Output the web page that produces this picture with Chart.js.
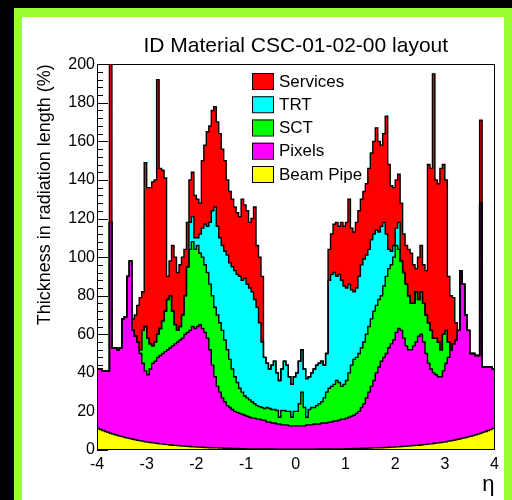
<!DOCTYPE html>
<html>
<head>
<meta charset="utf-8">
<script src="https://cdn.jsdelivr.net/npm/chart.js@4.4.1/dist/chart.umd.min.js"></script>
<style>
  html, body { margin: 0; padding: 0; background: #000; }
  #frame { position: absolute; left: 14px; top: 8px; width: 498px; height: 492px; background: #99ff33; }
  #pad { position: absolute; left: 22px; top: 17px; width: 482px; height: 483px; background: #fff; }
  canvas { display: block; }
</style>
</head>
<body>
<div id="frame"></div>
<div id="pad"><canvas id="myChart" width="482" height="483"></canvas></div>
<script>
// eta bins: 160 bins of 0.05 from -4 to 4
var etaMin = -4;
var binWidth = 0.05;
var xTicks = [-4, -3, -2, -1, 0, 1, 2, 3, 4];

// cumulative (stacked) thickness in % X0, upper edge of each layer
var beamPipe = [
  11.2,10.6,10.1,9.6,9.2,8.7,8.3,7.9,7.5,7.1,
  6.8,6.5,6.2,5.9,5.6,5.3,5.0,4.8,4.6,4.3,
  4.1,3.9,3.7,3.6,3.4,3.2,3.1,2.9,2.8,2.6,
  2.5,2.4,2.3,2.2,2.1,2.0,1.9,1.8,1.7,1.6,
  1.5,1.5,1.4,1.3,1.3,1.2,1.2,1.1,1.1,1.0,
  1.0,0.9,0.9,0.9,0.8,0.8,0.8,0.7,0.7,0.7,
  0.6,0.6,0.6,0.6,0.6,0.5,0.5,0.5,0.5,0.5,
  0.5,0.5,0.4,0.4,0.4,0.4,0.4,0.4,0.4,0.4,
  0.4,0.4,0.4,0.4,0.4,0.4,0.4,0.4,0.5,0.5,
  0.5,0.5,0.5,0.5,0.5,0.6,0.6,0.6,0.6,0.6,
  0.7,0.7,0.7,0.8,0.8,0.8,0.9,0.9,0.9,1.0,
  1.0,1.1,1.1,1.2,1.2,1.3,1.3,1.4,1.5,1.5,
  1.6,1.7,1.8,1.9,2.0,2.1,2.2,2.3,2.4,2.5,
  2.6,2.8,2.9,3.1,3.2,3.4,3.6,3.7,3.9,4.1,
  4.3,4.6,4.8,5.0,5.3,5.6,5.9,6.2,6.5,6.8,
  7.1,7.5,7.9,8.3,8.7,9.2,9.6,10.1,10.6,11.2
];
var pixels = [
  42,42,41,41,41,118,53,53,52,53,
  68,69,90,98,62,59,56,50,45,41,
  39,42,45,46,48,49,50,51,52,53,
  54,55,56,57,58,60,61,62,64,63,
  64,65,63,61,58,52,44,38,33,30,
  27,25,23,22,21,20,19.5,19,18.5,18,
  17.5,17,16.5,16.5,16,16,15.5,15.5,14.5,14.5,
  14,14,13.5,13.5,13,13,13,12.5,12.5,12.5,
  12.5,12.5,12.5,12.5,13,13,13,13.5,13.5,13.5,
  14,14,14,14.5,14.5,15,15,15.5,16,16,
  16.5,17,17.5,18,19,20,22,24,27,30,
  33,36,40,43,46,48,50,53,55,57,
  61,63,62,58,54,52,52,54,56,59,
  60,56,50,45,42,40,39,38,38,41,
  45,48,52,55,57,62,93,86,70,62,
  50,50,49,49,128,43,43,43,43,42
];
var sct = [
  42,42,41,41,41,118,53,53,52,53,
  68,69,90,98,62,59,56,52,62,64,
  58,55,54,56,60,63,67,72,78,80,
  72,65,62,64,70,80,95,104,108,104,
  106,102,100,96,92,86,80,74,70,66,
  62,57,52,47,42,38,35,32,30,28,
  27,26,25,24,23,22.5,22,21.5,22,21.5,
  21,21,20.5,17,20.5,20.5,20,20,17,20,
  20,24,30,22,17,21,22,22,23,24,
  25,27,30,32,33,34,36,35,33,34,
  36,40,44,47,48,50,53,56,60,64,
  68,72,75,78,80,85,90,94,96,100,
  106,104,98,92,86,80,76,76,82,78,
  82,76,70,66,62,58,58,56,52,60,
  62,56,52,55,57,62,93,86,70,62,
  50,50,49,49,128,43,43,43,43,42
];
var trt = [
  42,42,41,41,41,118,53,53,52,53,
  68,69,90,98,62,59,56,52,62,64,
  58,55,54,56,60,63,67,72,78,80,
  72,65,62,64,70,80,95,118,121,110,
  110,112,115,117,116,118,124,126,116,110,
  106,103,101,97,95,93,91,90,88,89,
  86,84,82,78,74,66,56,48,45,42,
  44,46,40,36,42,46,44,38,34,38,
  40,46,52,42,37,38,40,42,44,45,
  46,44,50,88,91,92,90,91,88,85,
  84,86,83,82,84,90,96,99,101,104,
  109,112,114,113,116,118,112,104,103,106,
  115,118,98,92,86,80,76,76,82,78,
  82,76,70,66,62,58,58,56,52,60,
  62,56,52,55,57,62,93,86,70,62,
  50,50,49,49,128,43,43,43,43,42
];
var services = [
  42,42,41,41,41,205,53,53,52,53,
  68,69,90,98,68,70,75,79,82,149,
  136,136,139,140,192,146,145,141,90,98,
  106,100,92,96,100,104,118,140,144,132,
  130,128,150,158,165,168,176,178,170,164,
  156,150,140,134,130,126,123,121,130,127,
  124,118,120,126,106,100,90,48,45,42,
  44,46,40,36,42,46,44,38,34,38,
  40,46,52,42,37,38,40,42,44,45,
  46,44,50,104,112,117,118,116,118,116,
  118,130,115,113,118,124,130,134,138,146,
  154,160,167,160,158,164,173,148,137,136,
  140,143,128,112,106,104,102,96,94,100,
  106,96,93,148,146,195,140,138,146,148,
  140,90,80,79,66,62,93,86,70,62,
  50,50,49,49,171,43,43,43,43,42
];

var layerNames = ['Beam Pipe', 'Pixels', 'SCT', 'TRT', 'Services'];
var layerColors = ['#ffff00', '#ff00ff', '#00ff00', '#00ffff', '#ff0000'];

// histogram steps: value held from the low edge of each bin to the next edge
function steps(vals) {
  var pts = [];
  for (var i = 0; i < vals.length; i++) {
    pts.push({x: +(etaMin + i * binWidth).toFixed(2), y: vals[i]});
  }
  pts.push({x: +(etaMin + vals.length * binWidth).toFixed(2), y: vals[vals.length - 1]});
  return pts;
}

var layers = [beamPipe, pixels, sct, trt, services];
var datasets = [];
for (var k = 0; k < layers.length; k++) {
  datasets.push({
    label: layerNames[k],
    data: steps(layers[k]),
    stepped: 'before',
    fill: k === 0 ? 'origin' : '-1',
    backgroundColor: layerColors[k],
    borderColor: '#000',
    borderWidth: 1.4,
    pointRadius: 0
  });
}

var rootStyle = {
  id: 'rootStyle',
  beforeDraw: function(chart) {
    // y axis ticks pointing into the pad, under the filled areas
    var ctx = chart.ctx, a = chart.chartArea, ys = chart.scales.y;
    ctx.save();
    ctx.strokeStyle = '#000';
    ctx.lineWidth = 1;
    for (var v = 0; v <= 200; v += 4) {
      var py = Math.round(ys.getPixelForValue(v)) + 0.5;
      var len = (v % 20 === 0) ? 11 : 6;
      ctx.beginPath();
      ctx.moveTo(a.left, py);
      ctx.lineTo(a.left + len, py);
      ctx.stroke();
    }
    ctx.restore();
  },
  afterDatasetsDraw: function(chart) {
    var ctx = chart.ctx, a = chart.chartArea;
    ctx.save();
    ctx.strokeStyle = '#000';
    ctx.lineWidth = 1;
    ctx.strokeRect(Math.round(a.left) + 0.5, Math.round(a.top) + 0.5,
                   Math.round(a.right - a.left) - 1, Math.round(a.bottom - a.top) - 1);
    // legend, top entry = last dataset
    var ds = chart.data.datasets;
    ctx.font = '17px "Liberation Sans", Arial, sans-serif';
    ctx.textBaseline = 'middle';
    ctx.textAlign = 'left';
    for (var i = 0; i < ds.length; i++) {
      var d = ds[ds.length - 1 - i];
      var top = 56 + i * 23.25;
      ctx.fillStyle = d.backgroundColor;
      ctx.fillRect(230, top, 21, 16);
      ctx.strokeRect(230.5, top + 0.5, 21, 16);
      ctx.fillStyle = '#000';
      ctx.fillText(d.label, 257, top + 9);
    }
    ctx.restore();
  }
};

var ctx = document.getElementById('myChart');
var myChart = new Chart(ctx, {
  type: 'line',
  data: { datasets: datasets },
  options: {
    responsive: false,
    animation: false,
    devicePixelRatio: 1,
    layout: { padding: { left: 8, right: 8, top: 17, bottom: 0 } },
    plugins: {
      legend: { display: false },
      tooltip: { enabled: false },
      filler: { drawTime: 'beforeDatasetsDraw' },
      title: {
        display: true,
        fullSize: false,
        text: 'ID Material CSC-01-02-00 layout',
        color: '#000',
        font: { family: '"Liberation Sans", Arial, sans-serif', size: 21, weight: 'normal' },
        padding: { top: 0, bottom: 5 }
      }
    },
    scales: {
      x: {
        type: 'linear',
        min: -4,
        max: 4,
        grid: { display: false, drawTicks: false },
        border: { display: false },
        afterBuildTicks: function(s) { s.ticks = xTicks.map(function(v) { return {value: v}; }); },
        ticks: {
          color: '#000',
          padding: 5,
          maxRotation: 0,
          autoSkip: false,
          font: { family: '"Liberation Sans", Arial, sans-serif', size: 16 }
        },
        title: {
          display: true,
          text: 'η',
          align: 'end',
          color: '#000',
          font: { family: '"Liberation Sans", Arial, sans-serif', size: 22 },
          padding: { top: 0, bottom: 2 }
        },
        afterFit: function(s) { s.height = 50; }
      },
      y: {
        min: 0,
        max: 200,
        grid: { display: false, drawTicks: false },
        border: { display: false },
        ticks: {
          stepSize: 20,
          color: '#000',
          padding: 2,
          font: { family: '"Liberation Sans", Arial, sans-serif', size: 16 }
        },
        title: {
          display: true,
          text: 'Thickness in radiation length (%)',
          align: 'end',
          color: '#000',
          font: { family: '"Liberation Sans", Arial, sans-serif', size: 18 },
          padding: { top: 4, bottom: 0 }
        },
        afterFit: function(s) { s.width = 67; }
      }
    }
  },
  plugins: [rootStyle]
});
</script>
</body>
</html>
